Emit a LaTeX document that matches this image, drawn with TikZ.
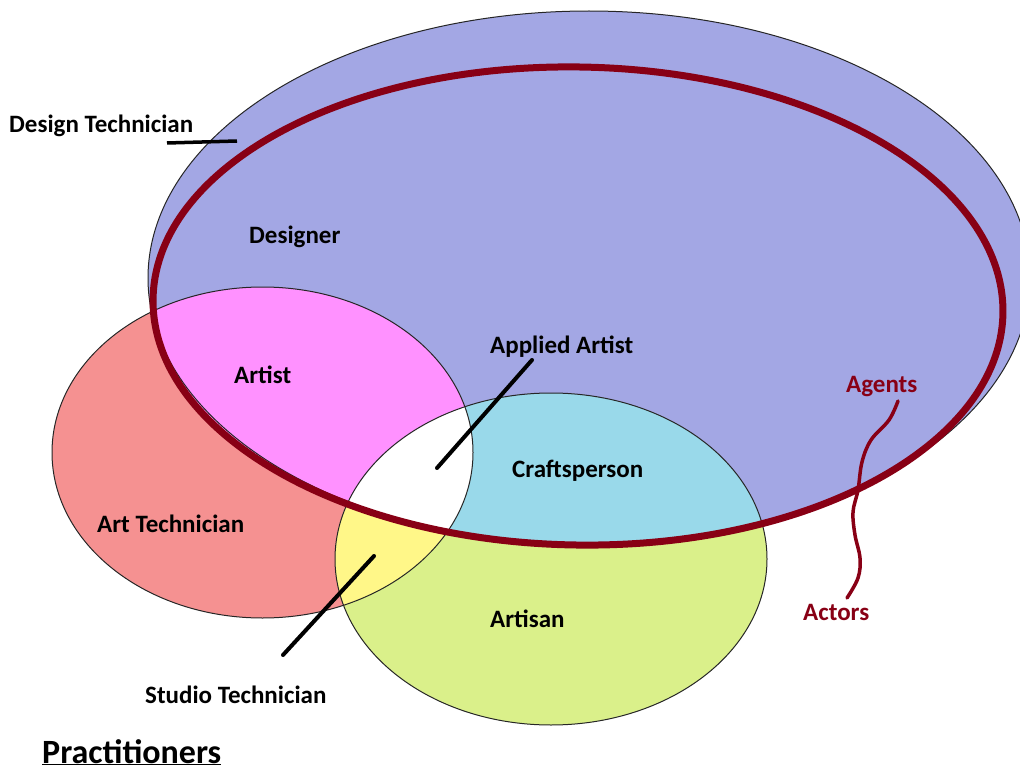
\documentclass[tikz,border=0pt]{standalone}
\usepackage{fontspec}
\setmainfont{Carlito}
\definecolor{lav}{RGB}{163,167,228}
\definecolor{salmon}{RGB}{245,145,145}
\definecolor{pinkA}{RGB}{255,145,255}
\definecolor{cyanC}{RGB}{153,217,234}
\definecolor{greenG}{RGB}{218,240,138}
\definecolor{yellowY}{RGB}{255,247,136}
\definecolor{darkred}{RGB}{136,0,21}
\begin{document}
\begin{tikzpicture}[x=1pt,y=-1pt,
  outline/.style={draw=black!85, line width=1pt},
  lbl/.style={font=\fontsize{25}{30}\selectfont\bfseries, inner sep=0pt, anchor=base west},
  redlbl/.style={lbl, text=darkred},
  leader/.style={draw=black, line width=4pt},
  redleader/.style={draw=darkred, line width=3.5pt, line cap=round},
  agrot/.style={rotate around={-1:(578,306)}},
]
\useasboundingbox (0,0) rectangle (1020,773);
% fills
\fill[lav] (589,278) ellipse [x radius=441pt, y radius=267pt];
\fill[salmon] (262.5,452.5) ellipse [x radius=210.5pt, y radius=165.5pt];
\fill[greenG] (551,559) ellipse [x radius=216pt, y radius=166pt];
\begin{scope}
  \clip (262.5,452.5) ellipse [x radius=210.5pt, y radius=165.5pt];
  \fill[yellowY] (551,559) ellipse [x radius=216pt, y radius=166pt];
\end{scope}
\begin{scope}
  \clip[agrot] (578,306) ellipse [x radius=425pt, y radius=239pt];
  \fill[pinkA] (262.5,452.5) ellipse [x radius=210.5pt, y radius=165.5pt];
  \fill[cyanC] (551,559) ellipse [x radius=216pt, y radius=166pt];
  \clip (262.5,452.5) ellipse [x radius=210.5pt, y radius=165.5pt];
  \fill[white] (551,559) ellipse [x radius=216pt, y radius=166pt];
\end{scope}
% outlines
\path[outline] (589,278) ellipse [x radius=441pt, y radius=267pt];
\path[outline] (262.5,452.5) ellipse [x radius=210.5pt, y radius=165.5pt];
\path[outline] (551,559) ellipse [x radius=216pt, y radius=166pt];
\draw[agrot, darkred, line width=7pt] (578,306) ellipse [x radius=425pt, y radius=239pt];
% labels
\node[lbl] (dtech) at (9,132) {Design Technician};
\node[lbl] (designer) at (249,243) {Designer};
\node[lbl] (artist) at (234,383) {Artist};
\node[lbl] (applied) at (490,353) {Applied Artist};
\node[lbl] (crafts) at (512,477) {Craftsperson};
\node[lbl] (arttech) at (97,532) {Art Technician};
\node[lbl] (artisan) at (490,627) {Artisan};
\node[lbl] (studio) at (145,703) {Studio Technician};
\node[redlbl] (agents) at (846,392) {Agents};
\node[redlbl] (actors) at (803,620) {Actors};
\node[lbl, font=\fontsize{34}{40}\selectfont\bfseries] (prac) at (42,763) {\underline{Practitioners}};
% leader lines
\coordinate (dtA) at (167,143);
\coordinate (dtB) at (237,141);
\draw[leader, line width=3.5pt] (dtA) -- (dtB);
\coordinate (apA) at (532,360);
\coordinate (apB) at (437,468);
\draw[leader, line cap=round] (apA) -- (apB);
\coordinate (stA) at (374,556);
\coordinate (stB) at (283,655);
\draw[leader, line cap=round] (stA) -- (stB);
\coordinate (agT) at (898,401);
\coordinate (acT) at (847,598);
\draw[redleader] plot[smooth, tension=0.6] coordinates {(agT) (889,420) (871,440) (862,462) (858,490) (853,512) (855,535) (860,558) (858,578) (acT)};
\end{tikzpicture}
\end{document}
